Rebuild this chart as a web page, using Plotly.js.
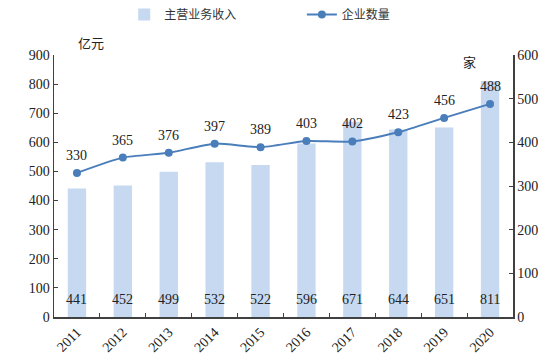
<!DOCTYPE html>
<html>
<head>
<meta charset="utf-8">
<script src="https://cdn.plot.ly/plotly-3.0.1.min.js"></script>
<style>html,body{margin:0;padding:0;background:#fff;}#chart{width:554px;height:361px;}</style>
</head>
<body>
<div id="chart"></div>
<script>
const years = ['2011','2012','2013','2014','2015','2016','2017','2018','2019','2020'];
const revenue = [441,452,499,532,522,596,671,644,651,811];
const companies = [330,365,376,397,389,403,402,423,456,488];
const revenueName = '主营业务收入';
const companyName = '企业数量';

const serif = 'Liberation Serif, serif';
const cjk = 'Noto Sans CJK SC, sans-serif';

// category axis: annotation x uses the category's serial index
const barAnn = years.map((y, i) => ({
  x: i, y: 0, xref: 'x', yref: 'y', text: String(revenue[i]),
  showarrow: false, yanchor: 'bottom', yshift: 8,
  font: {family: serif, size: 14, color: '#222'}
}));
const lineAnn = years.map((y, i) => ({
  x: i, y: companies[i], xref: 'x', yref: 'y2', text: String(companies[i]),
  showarrow: false, yanchor: 'bottom', yshift: 8,
  font: {family: serif, size: 14, color: '#222'}
}));

const data = [
  {type: 'bar', x: years, y: revenue, name: revenueName, marker: {color: '#c6d9f1'}, width: 0.4, yaxis: 'y', legend: 'legend'},
  {type: 'scatter', mode: 'lines+markers', x: years, y: companies, name: companyName, yaxis: 'y2', legend: 'legend2',
   line: {color: '#4a7ebb', width: 2, shape: 'spline', smoothing: 0.6},
   marker: {color: '#4a7ebb', size: 8}}
];

const axisCommon = {
  showgrid: false, zeroline: false, showline: true, linecolor: '#404040', linewidth: 1.5,
  ticks: 'inside', ticklen: 4, tickcolor: '#404040',
  tickfont: {family: serif, size: 14, color: '#222'}
};

const legendFont = {family: cjk, size: 12, color: '#333'};

const layout = {
  width: 554, height: 361,
  margin: {l: 54, r: 41, t: 55, b: 44},
  paper_bgcolor: '#fff', plot_bgcolor: '#fff',
  showlegend: true,
  legend: {orientation: 'h', x: 0.153, xref: 'paper', xanchor: 'left', y: 1.0, yref: 'container', yanchor: 'top', font: legendFont},
  legend2: {orientation: 'h', x: 0.54, xref: 'paper', xanchor: 'left', y: 1.0, yref: 'container', yanchor: 'top', font: legendFont},
  bargap: 0.6,
  xaxis: Object.assign({}, axisCommon, {type: 'category', tickangle: -45, tickson: 'boundaries', range: [-0.5, 9.5]}),
  yaxis: Object.assign({}, axisCommon, {range: [0, 900], dtick: 100}),
  yaxis2: Object.assign({}, axisCommon, {range: [0, 600], dtick: 100, overlaying: 'y', side: 'right'}),
  annotations: barAnn.concat(lineAnn).concat([
    {xref: 'paper', yref: 'paper', x: 0.08, y: 1.005, text: '亿元', showarrow: false, xanchor: 'center', yanchor: 'bottom',
     font: {family: cjk, size: 13, color: '#222'}},
    {xref: 'paper', yref: 'paper', x: 0.905, y: 1.02, text: '家', showarrow: false, xanchor: 'center', yanchor: 'top',
     font: {family: cjk, size: 13, color: '#222'}}
  ])
};

Plotly.newPlot('chart', data, layout, {displayModeBar: false, staticPlot: true});
</script>
</body>
</html>
